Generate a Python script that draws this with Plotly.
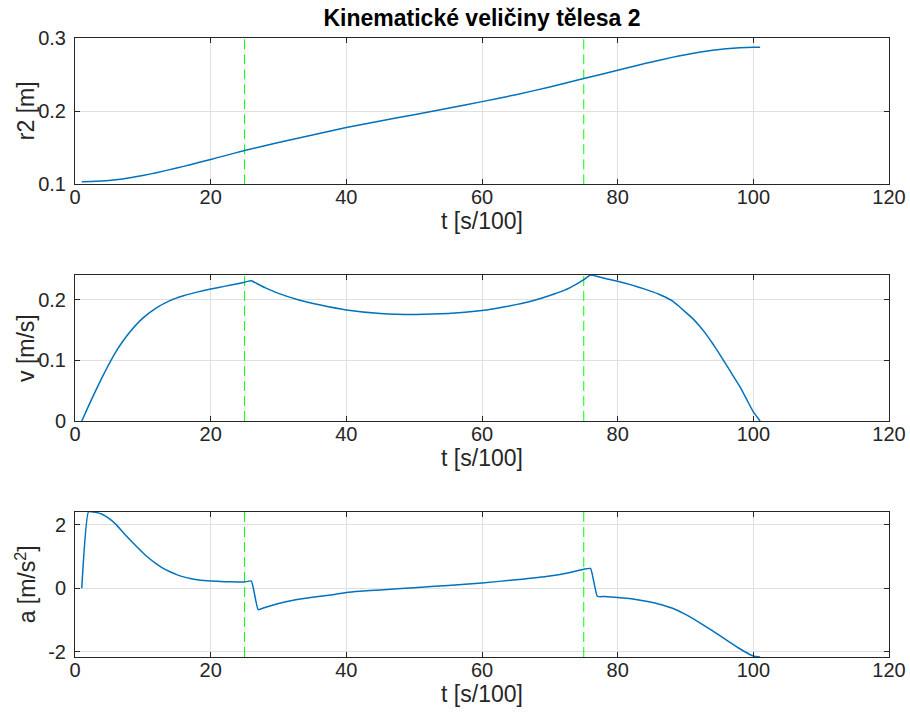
import plotly.graph_objects as go

# ---- data ----
t_r = [1, 3, 5, 7, 10, 12, 15, 17, 20, 22, 25, 30, 35, 40, 45, 50, 55, 60, 65, 70, 75, 80, 83,
       85, 88, 90, 92, 94, 96, 98, 100, 101]
r2 = [0.1035, 0.1040, 0.1052, 0.1073, 0.1120, 0.1158, 0.1222, 0.1268, 0.1340, 0.1388, 0.1462,
      0.1572, 0.1675, 0.1775, 0.1865, 0.1952, 0.2040, 0.2130, 0.2225, 0.2330, 0.2445, 0.2560,
      0.2628, 0.2672, 0.2735, 0.2772, 0.2805, 0.2832, 0.2852, 0.2866, 0.2872, 0.2873]

t_v = [1, 2, 3, 4, 5, 6, 7, 8, 10, 12, 14, 16, 18, 20, 22, 24, 25, 26, 27, 28, 30, 33, 36, 40,
       45, 50, 55, 60, 62, 64, 66, 68, 70, 72, 73, 74, 75, 76, 78, 80, 82, 84, 86, 87, 88, 89,
       90, 91, 92, 93, 94, 95, 96, 97, 98, 99, 100, 101]
v = [0.0, 0.025, 0.049, 0.072, 0.094, 0.114, 0.131, 0.146, 0.170, 0.187, 0.199, 0.207, 0.213,
     0.218, 0.2225, 0.227, 0.2295, 0.2318, 0.226, 0.2205, 0.211, 0.200, 0.192, 0.1835, 0.1778,
     0.1762, 0.1775, 0.1825, 0.186, 0.190, 0.1948, 0.2005, 0.2075, 0.2155, 0.2205, 0.2265,
     0.2335, 0.2413, 0.236, 0.231, 0.225, 0.218, 0.210, 0.205, 0.199, 0.190, 0.180, 0.170,
     0.158, 0.144, 0.128, 0.111, 0.093, 0.075, 0.057, 0.036, 0.015, 0.0]

t_a = [1, 2, 3, 4, 5, 6, 7, 8, 9, 10, 11, 12, 13, 14, 15, 16, 17, 18, 19, 20, 22, 24, 25, 26,
       27, 28, 30, 32, 35, 38, 40, 42, 45, 50, 55, 60, 65, 70, 73, 75, 76, 77, 78, 80, 82, 84,
       86, 88, 90, 92, 94, 96, 98, 100, 101]
a = [0.0, 2.41, 2.39, 2.33, 2.20, 2.02, 1.78, 1.55, 1.33, 1.12, 0.93, 0.77, 0.63, 0.52, 0.43,
     0.36, 0.31, 0.27, 0.245, 0.23, 0.21, 0.20, 0.20, 0.23, -0.67, -0.60, -0.48, -0.38, -0.28,
     -0.20, -0.13, -0.09, -0.05, 0.02, 0.09, 0.17, 0.27, 0.39, 0.50, 0.60, 0.625, -0.25, -0.26,
     -0.29, -0.33, -0.40, -0.49, -0.62, -0.82, -1.07, -1.34, -1.62, -1.90, -2.13, -2.16]

phase_t = [25, 75]

x_ticks = [0, 20, 40, 60, 80, 100, 120]
r_ticks = [0.1, 0.2, 0.3]
v_ticks = [0, 0.1, 0.2]
a_ticks = [-2, 0, 2]
r_tick_labels = ["0.1", "0.2", "0.3"]
v_tick_labels = ["0", "0.1", "0.2"]
a_tick_labels = ["-2", "0", "2"]

x_range = [0, 120]
r_range = [0.1, 0.3]
v_range = [0, 0.2413]
a_range = [-2.16, 2.41]

title_text = "Kinematické veličiny tělesa 2"
x_label = "t [s/100]"
y_labels = ["r2 [m]", "v [m/s]", "a [m/s<sup>2</sup>]"]

# ---- figure ----
BLUE = "#0072BD"
GREEN = "#00ff00"
AX = "#262626"
GRID = "#dfdfdf"
FONT = "Liberation Sans, Arial, sans-serif"

fig = go.Figure()
series = [(t_r, r2, r_range), (t_v, v, v_range), (t_a, a, a_range)]
for i, (tx, ty, yr) in enumerate(series):
    xa = "x" if i == 0 else f"x{i+1}"
    ya = "y" if i == 0 else f"y{i+1}"
    for p in phase_t:
        fig.add_trace(go.Scatter(x=[p, p], y=yr, mode="lines", xaxis=xa, yaxis=ya,
                                 line=dict(color=GREEN, width=1, dash="10px,5px"),
                                 hoverinfo="skip", showlegend=False))
    fig.add_trace(go.Scatter(x=tx, y=ty, mode="lines", xaxis=xa, yaxis=ya,
                             line=dict(color=BLUE, width=1.5, shape="spline", smoothing=0.4),
                             showlegend=False))

domains = [[0.7637, 1.0], [0.3813, 0.6171], [0.0, 0.2347]]
yticks = [r_ticks, v_ticks, a_ticks]
ytexts = [r_tick_labels, v_tick_labels, a_tick_labels]
yranges = [r_range, v_range, a_range]

common = dict(showline=True, linecolor=AX, linewidth=1, mirror="ticks", ticks="inside",
              ticklen=5, tickcolor=AX, showgrid=True, gridcolor=GRID, gridwidth=1,
              zeroline=False, automargin=False,
              tickfont=dict(family=FONT, size=20, color=AX))

PLOT_W = 910 - 75 - 21

layout = dict(
    width=910, height=725,
    margin=dict(l=75, r=21, t=38, b=68, autoexpand=False),
    paper_bgcolor="white", plot_bgcolor="white",
    showlegend=False,
    title=dict(text="<b>" + title_text + "</b>", x=0.5, xref="paper", xanchor="center",
               y=1 - 18 / 725, yanchor="middle", automargin=False,
               font=dict(family=FONT, size=23, color="black")),
)
annotations = []
for i in range(3):
    xk = "xaxis" if i == 0 else f"xaxis{i+1}"
    yk = "yaxis" if i == 0 else f"yaxis{i+1}"
    yname = "y" if i == 0 else f"y{i+1}"
    xname = "x" if i == 0 else f"x{i+1}"
    layout[xk] = dict(common, range=x_range, tickvals=x_ticks, anchor=yname,
                      domain=[0, 1], ticklabelstandoff=-5,
                      title=dict(text=x_label, standoff=2,
                                 font=dict(family=FONT, size=23, color=AX)))
    layout[yk] = dict(common, range=yranges[i], tickvals=yticks[i], ticktext=ytexts[i],
                      anchor=xname, domain=domains[i], ticklabelstandoff=4)
    annotations.append(dict(text=y_labels[i], textangle=-90, showarrow=False,
                            xref="paper", yref="paper",
                            x=(26 - 75) / PLOT_W, y=sum(domains[i]) / 2,
                            xanchor="center", yanchor="middle",
                            font=dict(family=FONT, size=23, color=AX)))
layout["annotations"] = annotations
fig.update_layout(**layout)

fig.write_html("out.html", config={"displayModeBar": False},
               post_script="document.body.style.margin='0px';")
